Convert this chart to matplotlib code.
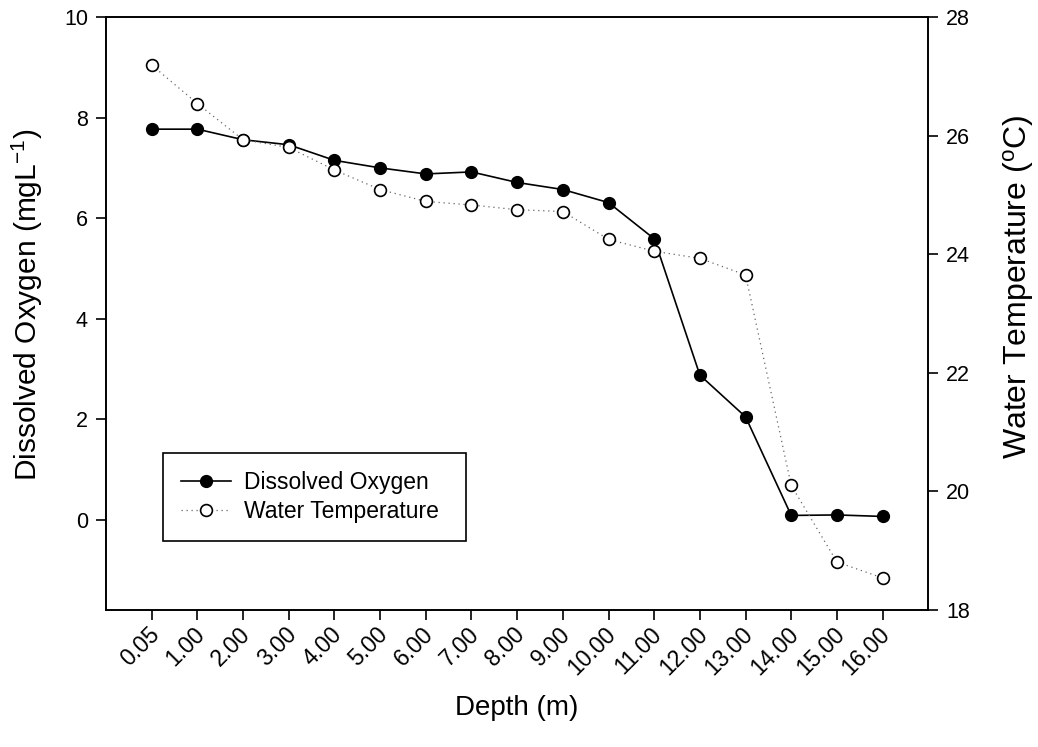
import matplotlib
matplotlib.use("Agg")
import matplotlib.pyplot as plt
import matplotlib.transforms as mtransforms

plt.rcParams['font.family'] = ['Liberation Sans', 'DejaVu Sans']
plt.rcParams['mathtext.fontset'] = 'custom'
plt.rcParams['mathtext.rm'] = 'Liberation Sans'
plt.rcParams['mathtext.it'] = 'Liberation Sans:italic'

depth_labels = ["0.05", "1.00", "2.00", "3.00", "4.00", "5.00", "6.00", "7.00", "8.00",
                "9.00", "10.00", "11.00", "12.00", "13.00", "14.00", "15.00", "16.00"]
dissolved_oxygen = [7.77, 7.77, 7.56, 7.46, 7.15, 7.00, 6.88, 6.92, 6.71, 6.57, 6.31, 5.59,
                    2.88, 2.05, 0.09, 0.10, 0.07]
water_temperature = [27.19, 26.54, 25.93, 25.80, 25.42, 25.09, 24.89, 24.83, 24.75, 24.72,
                     24.25, 24.05, 23.93, 23.65, 20.10, 18.81, 18.54]

x = list(range(len(depth_labels)))

fig = plt.figure(figsize=(10.38, 7.47), dpi=100)
ax = fig.add_axes([106/1038, 1-610/747, (928.3-106)/1038, (610-17)/747])
ax2 = ax.twinx()

l1, = ax.plot(x, dissolved_oxygen, color='black', lw=1.2, marker='o', ms=8.5,
              mfc='black', mec='black', zorder=3, label='Dissolved Oxygen')
l2, = ax2.plot(x, water_temperature, color='#666666', lw=0.9, linestyle=(0, (1, 3)),
               marker='o', ms=8.5, mfc='white', mec='black', mew=1.2, zorder=3,
               label='Water Temperature')

ax.set_xlim(-1, 17)
ax.set_ylim(-1.79, 10)
ax2.set_ylim(18, 28)
ax.set_yticks([0, 2, 4, 6, 8, 10])
ax2.set_yticks([18, 20, 22, 24, 26, 28])

for a in (ax, ax2):
    for s in a.spines.values():
        s.set_linewidth(1.2)
    a.tick_params(direction='out', length=7, width=1.2, labelsize=15.5, pad=6)

ax.set_xticks(x)
ax.set_xticklabels(depth_labels, rotation=45, ha='right', va='center',
                   rotation_mode='anchor', fontsize=16.5)
offset = mtransforms.ScaledTranslation(4/100, -3/100, fig.dpi_scale_trans)
for lab in ax.get_xticklabels():
    lab.set_transform(lab.get_transform() + offset)

ax.set_ylabel(r'Dissolved Oxygen (mgL$^{\mathrm{-1}}$)', fontsize=21.5)
ax2.set_ylabel(r'Water Temperature ($^{\mathrm{o}}$C)', fontsize=23)
ax.yaxis.set_label_coords(-0.074, 0.515)
ax2.yaxis.set_label_coords(1.088, 0.545)
ax.set_xlabel('Depth (m)', fontsize=20, labelpad=11)

leg = ax2.legend(handles=[l1, l2], loc='lower left', mode='expand',
                 bbox_to_anchor=(0.0697, 0.117, 0.368, 0.147), borderaxespad=0,
                 fontsize=16.5, frameon=True, fancybox=False, edgecolor='black',
                 framealpha=1, handlelength=2.2, handletextpad=0.55, labelspacing=0.3,
                 borderpad=0.75)
leg.get_frame().set_linewidth(1.2)

fig.savefig('out.png', dpi=100)
